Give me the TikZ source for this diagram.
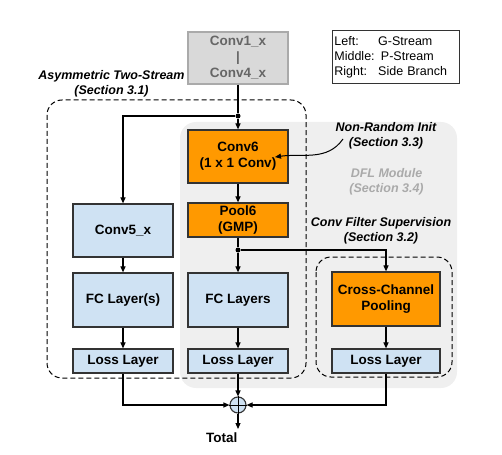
\documentclass[tikz,border=0pt]{standalone}
\usepackage{fontspec}
\setmainfont{Liberation Sans}
\usetikzlibrary{arrows.meta, positioning}

\definecolor{boxorange}{RGB}{255,153,0}
\definecolor{boxblue}{RGB}{207,226,243}
\definecolor{boxgray}{RGB}{217,217,217}
\definecolor{dflgray}{RGB}{239,239,239}
\definecolor{edgegray}{RGB}{51,51,51}
\definecolor{textgray}{RGB}{102,102,102}
\definecolor{notegray}{RGB}{170,170,170}

\tikzset{
  layer/.style={draw=edgegray, line width=1.2pt, align=center, inner sep=0pt,
    font=\bfseries\fontsize{13.5}{16}\selectfont, minimum width=100pt},
  bluelayer/.style={layer, fill=boxblue},
  orangelayer/.style={layer, fill=boxorange},
  note/.style={align=center, font=\bfseries\itshape\fontsize{12.5}{15}\selectfont},
  flow/.style={-{Triangle[length=6pt,width=5pt]}, line width=1.1pt},
  junction/.style={circle, fill=black, inner sep=0pt, minimum size=5pt},
  group/.style={line width=1pt, rounded corners=15pt, dash pattern=on 5pt off 3pt}
}

\begin{document}
\begin{tikzpicture}[x=1pt, y=-1pt]
        \useasboundingbox (0,0) rectangle (502,454);
        \pgfmathsetmacro{\leftcol}{123}
        \pgfmathsetmacro{\midcol}{238}
        \pgfmathsetmacro{\rightcol}{386}

        % regions
        \fill[dflgray, rounded corners=16pt] (180,122) rectangle (457,388);
        \draw[group] (47,100) rectangle (306,378);
        \draw[group] (316,257) rectangle (452,377);

        % shared trunk
        \node[layer, fill=boxgray, draw=notegray, text=textgray, minimum height=52pt] (conv1) at (\midcol, 58) {Conv1\_x\\|\\Conv4\_x};
        \node[draw=edgegray, line width=0.8pt, anchor=west, text width=123pt, inner xsep=2pt,
              minimum height=53pt, align=left, font=\fontsize{12.5}{15}\selectfont] (legend) at (332, 57)
              {\makebox[43.8pt][l]{Left:}G-Stream\\Middle: P-Stream\\\makebox[43.8pt][l]{Right:}Side Branch};

        % left stream
        \node[bluelayer, minimum height=53pt] (conv5) at (\leftcol, 230.5) {Conv5\_x};
        \node[bluelayer, minimum height=54pt] (fcleft) at (\leftcol, 300) {FC Layer(s)};
        \node[bluelayer, minimum height=24pt] (lossleft) at (\leftcol, 361) {Loss Layer};

        % middle stream
        \node[orangelayer, minimum height=53pt] (conv6) at (\midcol, 156.5) {Conv6\\(1 x 1 Conv)};
        \node[orangelayer, minimum height=34pt] (pool6) at (\midcol, 220) {Pool6\\(GMP)};
        \node[bluelayer, minimum height=54pt] (fcmid) at (\midcol, 300) {FC Layers};
        \node[bluelayer, minimum height=24pt] (lossmid) at (\midcol, 361) {Loss Layer};

        % side branch
        \node[orangelayer, minimum width=108pt, minimum height=54pt] (ccp) at (\rightcol, 299) {Cross-Channel\\Pooling};
        \node[bluelayer, minimum width=108pt, minimum height=24pt] (lossright) at (\rightcol, 361) {Loss Layer};

        % sum and total
        \node[circle, draw=edgegray, line width=1.1pt, fill=boxblue, minimum size=16pt, inner sep=0pt] (sum) at (\midcol, 405) {};
        \draw[line width=1pt] (sum.north) -- (sum.south) (sum.west) -- (sum.east);
        \node[font=\bfseries\fontsize{13.5}{16}\selectfont, anchor=north east] (total) at (241, 429) {Total};

        % labels
        \node[note] (asym) at (111.5, 83.5) {Asymmetric Two-Stream\\(Section 3.1)};
        \node[note] (nri) at (386, 135.5) {Non-Random Init\\(Section 3.3)};
        \node[note, text=notegray] (dfl) at (386.5, 181.5) {DFL Module\\(Section 3.4)};
        \node[note] (cfs) at (381, 231) {Conv Filter Supervision\\(Section 3.2)};

        % junctions
        \node[junction] (jtop) at (\midcol, 116) {};
        \node[junction] (jpool) at (\midcol, 250) {};

        % connectors
        \draw[line width=1.1pt] (conv1.south) -- (jtop);
        \draw[flow] (jtop) -- (conv6.north);
        \draw[flow] (jtop) -| (conv5.north);
        \draw[flow] (conv6) -- (pool6);
        \draw[line width=1.1pt] (pool6.south) -- (jpool);
        \draw[flow] (jpool) -- (fcmid.north);
        \draw[flow] (jpool) -| (ccp.north);
        \draw[flow] (conv5) -- (fcleft);
        \draw[flow] (fcleft) -- (lossleft);
        \draw[flow] (fcmid) -- (lossmid);
        \draw[flow] (ccp) -- (lossright);
        \draw[flow] (lossleft.south) |- (sum.west);
        \draw[flow] (lossmid.south) -- (sum.north);
        \draw[flow] (lossright.south) |- (sum.east);
        \draw[flow] (sum.south) -- (sum |- total.north);
        \coordinate (nristart) at (343, 139);
        \coordinate (nriend) at (275, 157);
        \draw[-{Triangle[length=6pt,width=5pt]}, line width=1pt] (nristart) to[out=235, in=8] (nriend);

    \end{tikzpicture}
\end{document}
